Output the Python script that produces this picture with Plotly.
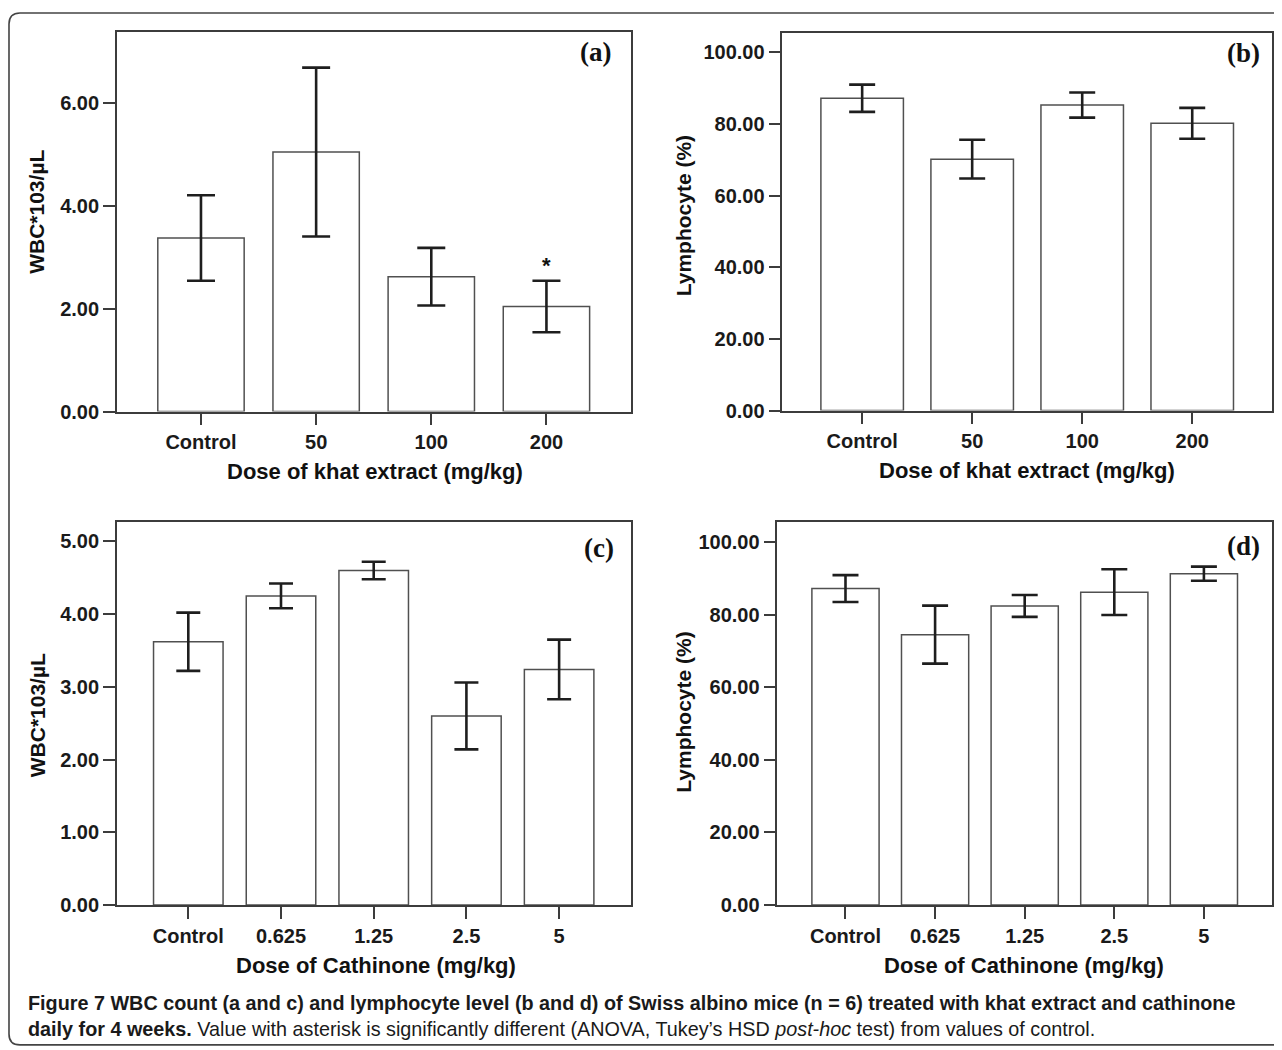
import plotly.graph_objects as go

# page is 1282 wide; the html body adds an 8px margin around the figure
PAGE_OFF = 8
W, H = 1266, 1044
YS = 0.9906  # vertical calibration between page px and the photographed picture

# ---------------- data ----------------
khat_doses = ["Control", "50", "100", "200"]
cath_doses = ["Control", "0.625", "1.25", "2.5", "5"]

wbc_khat = [3.37, 5.04, 2.62, 2.04]
wbc_khat_err = [0.83, 1.64, 0.56, 0.50]

lym_khat = [87.2, 70.2, 85.3, 80.2]
lym_khat_err = [3.8, 5.4, 3.5, 4.3]

wbc_cath = [3.62, 4.25, 4.60, 2.60, 3.24]
wbc_cath_err = [0.40, 0.17, 0.12, 0.46, 0.41]

lym_cath = [87.2, 74.5, 82.4, 86.2, 91.3]
lym_cath_err = [3.7, 8.0, 3.0, 6.3, 1.95]

wbc_khat_ticks = [0, 2, 4, 6]
wbc_cath_ticks = [0, 1, 2, 3, 4, 5]
lym_ticks = [0, 20, 40, 60, 80, 100]

sig_dose = "200"
sig_mark = "*"

# ---------------- helpers (picture pixel -> paper fraction) ----------------
def px_x(x):
    return (x - PAGE_OFF) / W

def px_y(y):
    return 1 - (y / YS - PAGE_OFF) / H

TICK_FONT = dict(family="Liberation Sans, Arial, sans-serif", size=20, color="#1a1a1a", weight="bold")
YTITLE_FONT = dict(family="Liberation Sans, Arial, sans-serif", size=21, color="#111", weight="bold")
XTITLE_FONT = dict(family="Liberation Sans, Arial, sans-serif", size=22, color="#111", weight="bold")
PANEL_FONT = dict(family="Liberation Serif, Times New Roman, serif", size=27, color="#111", weight="bold")

fig = go.Figure()

panels = [
    dict(ax="x", ay="y", cats=khat_doses, vals=wbc_khat, errs=wbc_khat_err,
         xpx=(117, 631), ypx=(32, 412), yr=[0, 7.37], ticks=wbc_khat_ticks, cap=14,
         label="(a)", ytitle="WBC*103/µL", ytpos=(37, 212),
         xtitle="Dose of khat extract (mg/kg)", xtpos=(375, 472), xr=[-0.73, 3.73]),
    dict(ax="x2", ay="y2", cats=khat_doses, vals=lym_khat, errs=lym_khat_err,
         xpx=(783, 1273), ypx=(33, 411), yr=[0, 105.4], ticks=lym_ticks, cap=13,
         label="(b)", ytitle="Lymphocyte (%)", ytpos=(684, 216),
         xtitle="Dose of khat extract (mg/kg)", xtpos=(1028, 471), xr=[-0.725, 3.725]),
    dict(ax="x3", ay="y3", cats=cath_doses, vals=wbc_cath, errs=wbc_cath_err,
         xpx=(117, 631), ypx=(523, 906), yr=[0, 5.26], ticks=wbc_cath_ticks, cap=12,
         label="(c)", ytitle="WBC*103/µL", ytpos=(37, 716),
         xtitle="Dose of Cathinone (mg/kg)", xtpos=(376, 967), xr=[-0.77, 4.77]),
    dict(ax="x4", ay="y4", cats=cath_doses, vals=lym_cath, errs=lym_cath_err,
         xpx=(778, 1273), ypx=(523, 906), yr=[0, 105.4], ticks=lym_ticks, cap=13,
         label="(d)", ytitle="Lymphocyte (%)", ytpos=(684, 713),
         xtitle="Dose of Cathinone (mg/kg)", xtpos=(1025, 967), xr=[-0.76, 4.76]),
]
# panel-label anchor (right edge, top) in picture px
label_pos = [(613, 35), (1263, 36), (616, 532), (1263, 530)]

annotations = []
for i, p in enumerate(panels):
    fig.add_trace(go.Bar(
        x=p["cats"], y=p["vals"], xaxis=p["ax"], yaxis=p["ay"],
        width=0.75,
        marker=dict(color="white", line=dict(color="#505050", width=1.5)),
        error_y=dict(type="data", array=p["errs"], visible=True,
                     color="#1e1e1e", thickness=2.6, width=p["cap"]),
        showlegend=False, hoverinfo="x+y",
    ))
    n = "" if i == 0 else str(i + 1)
    xd = [px_x(p["xpx"][0]), px_x(p["xpx"][1])]
    yd = [px_y(p["ypx"][1]), px_y(p["ypx"][0])]
    fig.update_layout(**{
        f"xaxis{n}": dict(
            domain=xd, anchor=p["ay"], type="category", range=p["xr"],
            showline=True, linecolor="#3c3c3c", linewidth=1.6, mirror=True,
            ticks="outside", ticklen=12, tickwidth=1.6, tickcolor="#3c3c3c",
            tickfont=TICK_FONT, showgrid=False, zeroline=False, fixedrange=True,
        ),
        f"yaxis{n}": dict(
            domain=yd, anchor=p["ax"], range=p["yr"],
            tickvals=p["ticks"], tickformat=".2f",
            showline=True, linecolor="#3c3c3c", linewidth=1.6, mirror=True,
            ticks="outside", ticklen=12, tickwidth=1.6, tickcolor="#3c3c3c",
            tickfont=TICK_FONT, showgrid=False, zeroline=False, fixedrange=True,
        ),
    })
    lx, ly = label_pos[i]
    annotations.append(dict(
        text=p["label"], xref="paper", yref="paper",
        x=px_x(lx), y=px_y(ly), xanchor="right", yanchor="top", showarrow=False, font=PANEL_FONT,
    ))
    annotations.append(dict(
        text=p["ytitle"], xref="paper", yref="paper",
        x=px_x(p["ytpos"][0]), y=px_y(p["ytpos"][1]), textangle=-90,
        xanchor="center", yanchor="middle", showarrow=False, font=YTITLE_FONT,
    ))
    annotations.append(dict(
        text=p["xtitle"], xref="paper", yref="paper",
        x=px_x(p["xtpos"][0]), y=px_y(p["xtpos"][1]),
        xanchor="center", yanchor="middle", showarrow=False, font=XTITLE_FONT,
    ))

# significance asterisk above the 200 mg/kg bar
k = khat_doses.index(sig_dose)
annotations.append(dict(
    text=sig_mark, xref="x", yref="y", x=k, y=wbc_khat[k] + wbc_khat_err[k],
    xanchor="center", yanchor="bottom", yshift=1, showarrow=False,
    font=dict(family="Liberation Sans, Arial, sans-serif", size=22, color="#111", weight="bold"),
))

# caption
CAP_FONT = dict(family="Liberation Sans, Arial, sans-serif", size=19.8, color="#1a1a1a")
annotations.append(dict(
    text="<b>Figure 7 WBC count (a and c) and lymphocyte level (b and d) of Swiss albino mice (n = 6) "
         "treated with khat extract and cathinone</b>",
    xref="paper", yref="paper", x=px_x(26), y=px_y(1004), xanchor="left", yanchor="middle",
    showarrow=False, font=CAP_FONT, align="left",
))
annotations.append(dict(
    text="<b>daily for 4 weeks.</b> Value with asterisk is significantly different (ANOVA, Tukey’s HSD "
         "<i>post-hoc</i> test) from values of control.",
    xref="paper", yref="paper", x=px_x(26), y=px_y(1030), xanchor="left", yanchor="middle",
    showarrow=False, font=CAP_FONT, align="left",
))

# rounded outer border (open on the right as in the source)
r = 11
bx, by, bb = 9, 13, 1046
path = (f"M {px_x(1300)},{px_y(by)} L {px_x(bx + r)},{px_y(by)} "
        f"Q {px_x(bx)},{px_y(by)} {px_x(bx)},{px_y(by + r)} "
        f"L {px_x(bx)},{px_y(bb - r)} Q {px_x(bx)},{px_y(bb)} {px_x(bx + r)},{px_y(bb)} "
        f"L {px_x(1300)},{px_y(bb)}")

fig.update_layout(
    width=W, height=H,
    margin=dict(l=0, r=0, t=0, b=0),
    paper_bgcolor="white", plot_bgcolor="white",
    annotations=annotations,
    shapes=[dict(type="path", path=path, xref="paper", yref="paper",
                 line=dict(color="#444", width=1.6), layer="above")],
)

fig.write_html("out.html")
